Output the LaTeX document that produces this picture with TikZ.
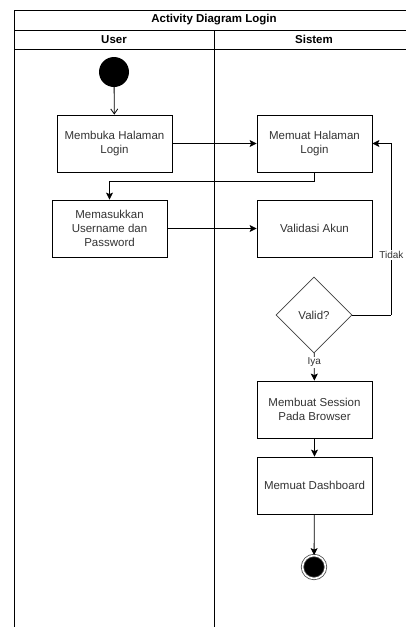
\documentclass[tikz,border=0pt]{standalone}
\usepackage{fontspec}
\setmainfont{Liberation Sans}
\usetikzlibrary{shapes.geometric, arrows.meta, calc}

\begin{document}
\begin{tikzpicture}[x=1pt, y=-1pt, node distance=76pt]
    \tikzstyle{lane} = [draw=black, line width=0.9pt]
    \tikzstyle{lanetitle} = [font=\fontsize{11.5}{14}\selectfont\bfseries, text=black]
    \tikzstyle{process} = [rectangle, minimum width=115pt, minimum height=57pt, inner sep=0pt, text centered, draw=black, line width=0.8pt, fill=white, align=center, text=black!80, font=\fontsize{11.5}{14}\selectfont]
    \tikzstyle{decision} = [diamond, minimum width=76pt, minimum height=76pt, inner sep=0pt, text centered, draw=black!75, line width=0.8pt, fill=white, text=black!80, font=\fontsize{11.5}{14}\selectfont]
    \tikzstyle{initial} = [circle, fill=black, minimum size=30pt, inner sep=0pt]
    \tikzstyle{final} = [circle, fill=black, minimum size=23pt, inner sep=0pt, double=white, double distance=1.6pt, draw=black!70, line width=0.8pt]
    \tikzstyle{guard} = [fill=white, inner sep=1pt, text=black!80, font=\fontsize{10}{12}\selectfont]
    \tikzstyle{arrow} = [line width=0.8pt, ->, >={Stealth[length=7pt, width=7pt, inset=1.5pt]}]
    \tikzstyle{openarrow} = [line width=0.8pt, ->, >={Straight Barb[length=5pt, width=7pt]}]
    \tikzstyle{line} = [line width=0.8pt]
    \useasboundingbox (0,0) rectangle (406,627);
    % Swimlanes
    \draw [lane] (14,627) -- (14,10) -- (406,10);
    \draw [lane] (14,30) -- (406,30);
    \draw [lane] (14,49) -- (406,49);
    \draw [lane] (214,30) -- (214,627);
    \node (title) [lanetitle] at (214,20) {Activity Diagram Login};
    \node (user) [lanetitle] at (114,39.5) {User};
    \node (sistem) [lanetitle] at (314,39.5) {Sistem};
    % Nodes
    \node (start) [initial] at (114,72) {};
    \node (openlogin) [process] at (114.5,143.5) {Membuka Halaman\\Login};
    \node (loadlogin) [process] at (314.5,143.5) {Memuat Halaman\\Login};
    \node (inputacc) [process] at (109.5,228.5) {Memasukkan\\Username dan\\Password};
    \node (validate) [process] at (314.5,228.5) {Validasi Akun};
    \node (isvalid) [decision] at (314,315) {Valid?};
    \node (session) [process] at (314.5,409.5) {Membuat Session\\Pada Browser};
    \node (dashboard) [process, below of=session] {Memuat Dashboard};
    \node (stop) [final] at (314,567) {};
    % Arrows
    \draw [openarrow] (start) -- (openlogin);
    \draw [arrow] (openlogin) -- (loadlogin);
    \coordinate (turn) at ($(loadlogin.south) + (0,9)$);
    \draw [arrow] (loadlogin.south) -- (turn) -| (inputacc.north);
    \draw [arrow] (inputacc) -- (validate);
    \coordinate (back) at ($(isvalid.east) + (39,0)$);
    \draw [line] (isvalid.east) -- (back);
    \draw [arrow] (back) -- node[guard, pos=0.35] {Tidak} (back |- loadlogin) -- (loadlogin.east);
    \draw [arrow] (isvalid) -- node[guard, pos=0.33] {Iya} (session);
    \draw [arrow] (session) -- (dashboard);
    \draw [arrow] (dashboard) -- (stop);
\end{tikzpicture}
\end{document}
